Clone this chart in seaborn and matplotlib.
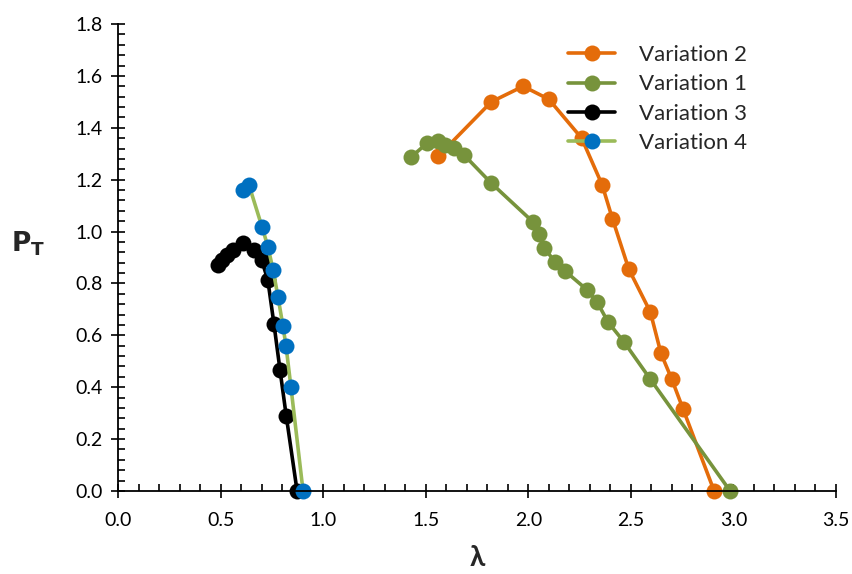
import matplotlib
matplotlib.use("Agg")
import matplotlib.pyplot as plt
import seaborn as sns
import numpy as np
from matplotlib.ticker import MultipleLocator

sns.set_style("white")
plt.rcParams['font.family'] = ['Lato', 'DejaVu Sans']

# Variation 2 (orange)
v2_x = [1.56, 1.82, 1.975, 2.10, 2.26, 2.36, 2.41, 2.49, 2.595, 2.647, 2.70, 2.755, 2.906]
v2_y = [1.29, 1.50, 1.56, 1.51, 1.36, 1.18, 1.05, 0.855, 0.69, 0.53, 0.43, 0.315, 0.0]
# Variation 1 (green)
v1_x = [1.43, 1.507, 1.56, 1.594, 1.638, 1.687, 1.819, 2.023, 2.053, 2.077, 2.131, 2.179,
        2.287, 2.335, 2.389, 2.467, 2.594, 2.984]
v1_y = [1.288, 1.341, 1.349, 1.334, 1.322, 1.295, 1.187, 1.037, 0.991, 0.937, 0.883, 0.848,
        0.775, 0.729, 0.651, 0.574, 0.432, 0.0]
# Variation 3 (black)
v3_x = [0.488, 0.507, 0.53, 0.56, 0.61, 0.665, 0.70, 0.73, 0.76, 0.79, 0.82, 0.873]
v3_y = [0.87, 0.89, 0.91, 0.93, 0.955, 0.93, 0.89, 0.815, 0.645, 0.465, 0.29, 0.0]
# Variation 4 (blue markers, light green line)
v4_x = [0.609, 0.639, 0.702, 0.731, 0.756, 0.78, 0.804, 0.819, 0.843, 0.902]
v4_y = [1.16, 1.178, 1.018, 0.941, 0.852, 0.748, 0.636, 0.559, 0.401, 0.0]

series = [
    ("Variation 2", v2_x, v2_y, "#E46C0A", "#E46C0A"),
    ("Variation 1", v1_x, v1_y, "#77933C", "#77933C"),
    ("Variation 3", v3_x, v3_y, "#000000", "#000000"),
    ("Variation 4", v4_x, v4_y, "#9BBB59", "#0070C0"),
]

fig = plt.figure(figsize=(8.52, 5.74), dpi=100)
ax = fig.add_axes([118/852, 1-491/574, (836-118)/852, (491-24)/574])

for name, xs, ys, lc, mc in series:
    sns.lineplot(x=xs, y=ys, ax=ax, sort=False, estimator=None, color=lc,
                 linewidth=2.6, marker='o', markersize=11.5,
                 markerfacecolor=mc, markeredgecolor=mc, markeredgewidth=0,
                 label=name, clip_on=False)

ax.set_xlim(0, 3.5)
ax.set_ylim(0, 1.8)
ax.xaxis.set_minor_locator(MultipleLocator(0.1))
ax.yaxis.set_minor_locator(MultipleLocator(0.04))
ax.set_xticks(np.arange(0, 3.51, 0.5))
ax.set_xticklabels([f"{v:.1f}" for v in np.arange(0, 3.51, 0.5)])
ax.set_yticks(np.arange(0, 1.81, 0.2))
ax.set_yticklabels([f"{v:.1f}" for v in np.arange(0, 1.81, 0.2)])

ax.tick_params(axis='both', which='both', bottom=True, left=True, top=False, right=False)
ax.tick_params(axis='both', which='major', direction='inout', length=10, width=1.2,
               labelsize=14, colors='black')
ax.tick_params(axis='both', which='minor', direction='in', length=5, width=1.2, colors='black')
ax.tick_params(axis='x', which='major', pad=10)
ax.tick_params(axis='y', which='major', pad=6)

for s in ['top', 'right']:
    ax.spines[s].set_visible(False)
for s in ['left', 'bottom']:
    ax.spines[s].set_color('black')
    ax.spines[s].set_linewidth(1.3)

ax.set_xlabel("λ", fontsize=20, fontweight='bold', labelpad=12)
ax.set_ylabel(r"$\mathbf{P_T}$", fontsize=19, rotation=0)
ax.yaxis.set_label_coords(-0.125, 0.5)

leg = ax.legend(loc='upper left', bbox_to_anchor=(0.627, 0.955), frameon=False,
                fontsize=16, handlelength=2.1, handletextpad=1.1, labelspacing=0.42,
                borderpad=0, borderaxespad=0)

fig.savefig("out.png", dpi=100)
